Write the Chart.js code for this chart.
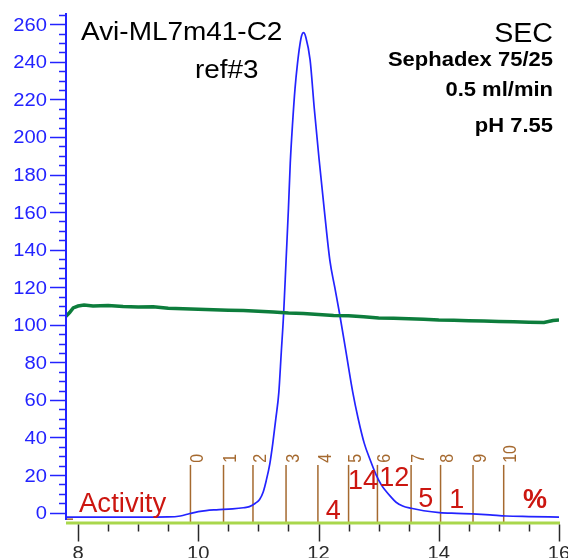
<!DOCTYPE html>
<html>
<head>
<meta charset="utf-8">
<script src="https://cdn.jsdelivr.net/npm/chart.js@4.4.1/dist/chart.umd.min.js"></script>
<style>
  html, body { margin: 0; padding: 0; background: #fff; }
  #sec-chart { display: block; }
</style>
</head>
<body>
<canvas id="sec-chart" width="568" height="558"></canvas>
<script>
// elution volume (ml) and absorbance of the protein peak
const uvTime = [7.8, 8.5, 9.0, 9.5, 9.7, 9.86, 10.0, 10.13, 10.3, 10.57, 10.75, 10.85, 10.95, 11.02, 11.08,
    11.13, 11.19, 11.24, 11.29, 11.34, 11.38, 11.42, 11.46, 11.5, 11.53, 11.57, 11.61, 11.65, 11.69, 11.72, 11.75,
    11.79, 11.86, 11.93, 12.01, 12.1, 12.19, 12.27, 12.35, 12.46, 12.57, 12.66, 12.76, 12.86, 12.96, 13.05,
    13.12, 13.2, 13.29, 13.4, 13.54, 13.75, 14.01, 14.3, 14.56, 14.85, 15.12, 15.5, 16.0];
const uvSignal = [-2.4, -2.4, -2.4, -2.3, -1.8, -0.5, 0.5, 1.1, 1.5, 2.0, 2.6, 3.2, 5.0, 7.0, 11,
    17, 26, 37, 50, 64, 85, 106, 134, 162, 186, 208, 226, 239, 249, 254, 255.5,
    253, 241, 215, 188, 160, 134, 120, 106, 85, 64, 50, 37, 28, 20, 14.5,
    11.5, 8.5, 5.5, 3.5, 2.3, 1.0, 0, -0.4, -0.7, -1.2, -1.8, -2.1, -2.4];

// second trace (conductivity), green
const condTime = [7.8, 7.86, 7.92, 8.0, 8.1, 8.25, 8.5, 8.75, 9.0, 9.25, 9.5, 9.75, 10.0, 10.25, 10.5,
    10.75, 11.0, 11.25, 11.5, 11.75, 12.0, 12.25, 12.5, 12.75, 13.0, 13.25, 13.5, 13.75, 14.0, 14.25,
    14.5, 14.75, 15.0, 15.25, 15.5, 15.75, 15.9, 16.0];
const condSignal = [104.5, 106.5, 109, 110, 110.5, 110, 110.3, 109.8, 109.5, 109.6, 108.8, 108.6, 108.3, 108, 107.8,
    107.6, 107.2, 106.8, 106.3, 106, 105.5, 105, 104.8, 104.3, 103.6, 103.5, 103.2, 103, 102.6, 102.4,
    102.2, 102, 101.8, 101.6, 101.4, 101.2, 102.3, 102.5];

// fraction collector marks
const fractionPos = [9.87, 10.42, 10.91, 11.46, 11.99, 12.5, 12.98, 13.54, 14.03, 14.57, 15.08];
const fractionLabels = ['0', '1', '2', '3', '4', '5', '6', '7', '8', '9', '10'];

// activity (%) measured in fractions 4..8
const activityValues = ['4', '14', '12', '5', '1'];
const activityFirst = 4;

const xTickLabels = [8, 10, 12, 14, 16];
const yTickLabels = [0, 20, 40, 60, 80, 100, 120, 140, 160, 180, 200, 220, 240, 260];

const BLUE = '#2323ff';
const BROWN = '#a5692f';
const RED = '#cc1610';

function txt(ctx, s, x, y, font, color, align, sx) {
    ctx.save();
    ctx.font = font;
    ctx.fillStyle = color;
    ctx.textAlign = align || 'left';
    ctx.textBaseline = 'alphabetic';
    ctx.translate(x, y);
    ctx.scale(sx || 1, 1);
    ctx.fillText(s, 0, 0);
    ctx.restore();
}

const fractionsPlugin = {
    id: 'fractions',
    beforeDatasetsDraw(chart) {
        const ctx = chart.ctx;
        const xs = chart.scales.x, ys = chart.scales.y;
        ctx.save();
        ctx.strokeStyle = BROWN;
        ctx.lineWidth = 1.5;
        fractionPos.forEach(p => {
            const px = xs.getPixelForValue(p);
            ctx.beginPath();
            ctx.moveTo(px, ys.getPixelForValue(-5.5));
            ctx.lineTo(px, ys.getPixelForValue(25.4));
            ctx.stroke();
        });
        // short activity baseline stub at the left edge
        ctx.beginPath();
        ctx.moveTo(chart.chartArea.left, ys.getPixelForValue(-3.5));
        ctx.lineTo(chart.chartArea.left + 7, ys.getPixelForValue(-3.5));
        ctx.stroke();
        ctx.restore();

        // fraction numbers, written upwards
        fractionPos.forEach((p, i) => {
            const px = xs.getPixelForValue(p);
            ctx.save();
            ctx.translate(px, ys.getPixelForValue(26.5));
            ctx.scale(1.1, 1);
            ctx.rotate(-Math.PI / 2);
            ctx.font = '16px "Liberation Sans", Arial, sans-serif';
            ctx.fillStyle = BROWN;
            ctx.textAlign = 'left';
            ctx.textBaseline = 'alphabetic';
            ctx.fillText(fractionLabels[i], 0, 11.5);
            ctx.restore();
        });
    }
};

const axesPlugin = {
    id: 'axesAndText',
    afterDatasetsDraw(chart) {
        const ctx = chart.ctx;
        const xs = chart.scales.x, ys = chart.scales.y;
        const area = chart.chartArea;
        const font = '"Liberation Sans", Arial, sans-serif';

        ctx.save();
        // y axis
        ctx.strokeStyle = BLUE;
        ctx.lineWidth = 2;
        ctx.beginPath();
        ctx.moveTo(area.left, area.top);
        ctx.lineTo(area.left, area.bottom - 2);
        ctx.stroke();
        ctx.lineWidth = 1.5;
        for (let v = 0; v <= 265; v += 5) {
            const py = Math.round(ys.getPixelForValue(v)) + 0.5;
            const len = v % 20 === 0 ? 16 : 7;
            ctx.beginPath();
            ctx.moveTo(area.left - len, py);
            ctx.lineTo(area.left, py);
            ctx.stroke();
        }
        yTickLabels.forEach(v => {
            txt(ctx, String(v), 47, ys.getPixelForValue(v) + 6.5, '18px ' + font, BLUE, 'right', 1.12);
        });

        // x axis
        ctx.strokeStyle = '#a9d74c';
        ctx.lineWidth = 3;
        ctx.beginPath();
        ctx.moveTo(area.left, area.bottom + 1);
        ctx.lineTo(area.right + 1, area.bottom + 1);
        ctx.stroke();
        ctx.strokeStyle = '#2a2a2a';
        ctx.lineWidth = 1.5;
        for (let v = 8; v <= 16; v += 0.5) {
            const px = Math.round(xs.getPixelForValue(v)) + 0.5;
            const len = v % 2 === 0 ? 17 : 7;
            ctx.beginPath();
            ctx.moveTo(px, area.bottom + 2.5);
            ctx.lineTo(px, area.bottom + 2.5 + len);
            ctx.stroke();
        }
        xTickLabels.forEach(v => {
            txt(ctx, String(v), xs.getPixelForValue(v), 559, '18px ' + font, '#2a2a2a', 'center', 1.12);
        });
        ctx.restore();

        // activity row
        txt(ctx, 'Activity', 79, 511.5, '27px ' + font, RED, 'left', 1.02);
        const actY = [-3.4, 12.6, 14.2, 3.0, 2.5];
        activityValues.forEach((a, i) => {
            const k = activityFirst + i;
            const mid = (fractionPos[k] + fractionPos[k + 1]) / 2;
            txt(ctx, a, xs.getPixelForValue(mid), ys.getPixelForValue(actY[i]), '27px ' + font, RED, 'center', 1);
        });
        txt(ctx, '%', 535, 508, 'bold 27px ' + font, RED, 'center', 1);

        // run info
        txt(ctx, 'Avi-ML7m41-C2', 81, 40, '26px ' + font, '#000', 'left', 1.075);
        txt(ctx, 'ref#3', 195, 78, '26px ' + font, '#000', 'left', 1.07);
        txt(ctx, 'SEC', 553, 42, '27px ' + font, '#000', 'right', 1.06);
        txt(ctx, 'Sephadex 75/25', 553, 66, 'bold 20px ' + font, '#000', 'right', 1.1);
        txt(ctx, '0.5 ml/min', 553, 96, 'bold 20px ' + font, '#000', 'right', 1.1);
        txt(ctx, 'pH 7.55', 553, 132, 'bold 20px ' + font, '#000', 'right', 1.1);
    }
};

const chartCanvas = document.querySelector('#sec-chart');

const secChart = new Chart(chartCanvas, {
    type: 'line',
    data: {
        datasets: [{
            label: 'Conductivity',
            data: condTime.map((t, i) => ({ x: t, y: condSignal[i] })),
            borderColor: '#0d7d3c',
            borderWidth: 3.5,
            pointRadius: 0,
            tension: 0
        }, {
            label: 'UV',
            data: uvTime.map((t, i) => ({ x: t, y: uvSignal[i] })),
            borderColor: BLUE,
            borderWidth: 1.7,
            pointRadius: 0,
            cubicInterpolationMode: 'monotone'
        }]
    },
    options: {
        responsive: false,
        animation: false,
        events: [],
        layout: {
            autoPadding: false,
            padding: { left: 66, right: 9, top: 13, bottom: 36 }
        },
        plugins: {
            legend: { display: false },
            tooltip: { enabled: false }
        },
        scales: {
            x: {
                type: 'linear',
                min: 7.8,
                max: 16,
                ticks: { display: false },
                grid: { display: false, drawTicks: false },
                border: { display: false },
                afterFit: s => { s.height = 0; }
            },
            y: {
                min: -5,
                max: 266,
                ticks: { display: false },
                grid: { display: false, drawTicks: false },
                border: { display: false },
                afterFit: s => { s.width = 0; }
            }
        }
    },
    plugins: [fractionsPlugin, axesPlugin]
});
</script>
</body>
</html>
